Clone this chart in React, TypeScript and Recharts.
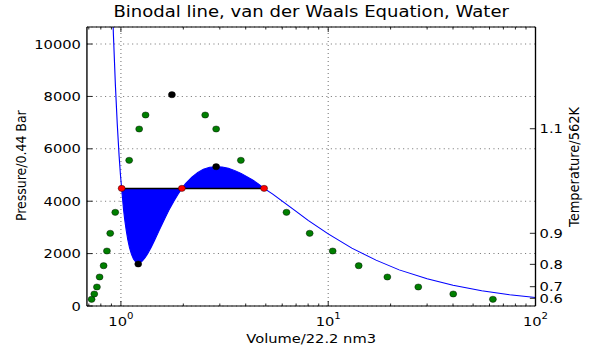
import {
  ComposedChart,
  Line,
  Area,
  Scatter,
  XAxis,
  YAxis,
  CartesianGrid,
  ReferenceLine,
} from 'recharts'

// van der Waals isotherm
const volume = [
  0.88, 0.9, 0.92, 0.94, 0.96, 0.98, 0.995, 1.008, 1.03, 1.045, 1.06, 1.08, 1.1, 1.125, 1.15, 1.18,
  1.21, 1.24, 1.27, 1.31, 1.35, 1.4, 1.45, 1.52, 1.6, 1.7, 1.8, 1.88, 1.968, 2.05, 2.2, 2.35, 2.5,
  2.68, 2.88, 3.08, 3.3, 3.55, 3.8, 4.05, 4.3, 4.6, 4.905, 5.4, 6, 7, 8, 10, 13, 17, 22, 30, 40,
  55, 75, 100,
]
const pressure = [
  15650, 12700, 10360, 8470, 6960, 5740, 5000, 4490, 3670, 3250, 2900, 2520, 2230, 1970, 1790,
  1680, 1640, 1660, 1720, 1850, 2010, 2240, 2490, 2840, 3210, 3640, 4000, 4250, 4490, 4670, 4920,
  5100, 5220, 5295, 5320, 5308, 5260, 5167, 5060, 4940, 4820, 4666, 4490, 4274, 4000, 3608, 3270,
  2750, 2210, 1750, 1380, 1040, 790, 580, 430, 324,
]

// Maxwell construction
const coexistPressure = 4490
const coexistVolume = [1.008, 1.968, 4.905]

// critical point, local max, local min
const extremaVolume = [1.762, 2.88, 1.212]
const extremaPressure = [8065, 5317, 1603]

// binodal points
const binodalPressure = [256, 458, 725, 1107, 1538, 2099, 2775, 3576, 5561, 6756, 7290]
const liquidVolume = [0.722, 0.744, 0.766, 0.789, 0.825, 0.856, 0.888, 0.939, 1.096, 1.225, 1.315]
const vaporVolume = [62.3, 40.1, 27.2, 19.29, 14.03, 10.51, 8.14, 6.29, 3.79, 2.88, 2.55]

const xTicks = [
  0.7, 0.8, 0.9, 1, 2, 3, 4, 5, 6, 7, 8, 9, 10, 20, 30, 40, 50, 60, 70, 80, 90, 100,
]
const yTicks = [0, 2000, 4000, 6000, 8000, 10000]
const tempTickPressure = [6767, 2775, 1590, 737, 294]
const tempTickLabels = ['1.1', '0.9', '0.8', '0.7', '0.6']

const X_MIN = 0.6856
const X_MAX = 100
const Y_MAX = 10650

const W = 527
const H = 351
const STRETCH = 595 / W
const FONT = '"DejaVu Sans", sans-serif'

const curveData = volume.map((x, i) => {
  const p = pressure[i]
  const inLoop = x >= coexistVolume[0] && x <= coexistVolume[2]
  return {
    x,
    p,
    band: inLoop ? [Math.min(p, coexistPressure), Math.max(p, coexistPressure)] : null,
  }
})
const tieLine = [
  { x: coexistVolume[0], p: coexistPressure },
  { x: coexistVolume[2], p: coexistPressure },
]
const redData = coexistVolume.map((x) => ({ x, p: coexistPressure }))
const blackData = extremaVolume.map((x, i) => ({ x, p: extremaPressure[i] }))
const liquidData = liquidVolume.map((x, i) => ({ x, p: binodalPressure[i] }))
const vaporData = vaporVolume.map((x, i) => ({ x, p: binodalPressure[i] }))

const isDecade = (v: number) => Math.abs(Math.log10(v) - Math.round(Math.log10(v))) < 1e-6

const bottomTick = (props: any) => {
  const { x, y, payload } = props
  const v = payload.value
  const major = isDecade(v)
  return (
    <g>
      <line x1={x} x2={x} y1={y} y2={y - (major ? 5 : 2.5)} stroke="#000" strokeWidth={0.8} />
      {major && (
        <text x={x} y={y + 20} textAnchor="middle" fontSize={13} fontFamily={FONT} fill="#000">
          10
          <tspan fontSize={9} dy={-7}>
            {Math.round(Math.log10(v))}
          </tspan>
        </text>
      )}
    </g>
  )
}

const topTick = (props: any) => {
  const { x, y, payload } = props
  const major = isDecade(payload.value)
  return <line x1={x} x2={x} y1={y} y2={y + (major ? 5 : 2.5)} stroke="#000" strokeWidth={0.8} />
}

const leftTick = (props: any) => {
  const { x, y, payload } = props
  return (
    <g>
      <line x1={x} x2={x + 5} y1={y} y2={y} stroke="#000" strokeWidth={0.8} />
      <text x={x - 5.3} y={y + 4.6} textAnchor="end" fontSize={13} fontFamily={FONT} fill="#000">
        {payload.value}
      </text>
    </g>
  )
}

const rightTick = (props: any) => {
  const { x, y, payload } = props
  const idx = tempTickPressure.indexOf(payload.value)
  return (
    <g>
      <line x1={x} x2={x - 5} y1={y} y2={y} stroke="#000" strokeWidth={0.8} />
      <text x={x + 3.6} y={y + 4.6} textAnchor="start" fontSize={13} fontFamily={FONT} fill="#000">
        {tempTickLabels[idx]}
      </text>
    </g>
  )
}

const dot = (props: any) => (
  <circle cx={props.cx} cy={props.cy} r={3.1} fill={props.fill} stroke="#000" strokeWidth={0.4} />
)

const axisLine = { stroke: '#000', strokeWidth: 1.2 }
const gridStroke = '#7f7f7f'
const gridDash = '1 3'

export default function App() {
  return (
    <div
      style={{
        position: 'absolute',
        left: 0,
        top: 0,
        width: W,
        height: H,
        transform: `scaleX(${STRETCH})`,
        transformOrigin: '0 0',
        background: '#fff',
      }}
    >
      <ComposedChart width={W} height={H} data={curveData} margin={{ top: 0, right: 0, bottom: 0, left: 0 }}>
        <CartesianGrid vertical={false} stroke={gridStroke} strokeDasharray={gridDash} />
        <XAxis
          dataKey="x"
          type="number"
          scale="log"
          domain={[X_MIN, X_MAX]}
          allowDataOverflow
          ticks={xTicks}
          interval={0}
          tickSize={0}
          tickMargin={0}
          tickLine={false}
          tick={bottomTick}
          height={45}
          axisLine={axisLine}
        />
        <XAxis
          xAxisId="top"
          orientation="top"
          dataKey="x"
          type="number"
          scale="log"
          domain={[X_MIN, X_MAX]}
          allowDataOverflow
          ticks={xTicks}
          interval={0}
          tickSize={0}
          tickMargin={0}
          tickLine={false}
          tick={topTick}
          height={27}
          axisLine={axisLine}
        />
        <YAxis
          type="number"
          domain={[0, Y_MAX]}
          allowDataOverflow
          ticks={yTicks}
          interval={0}
          tickSize={0}
          tickMargin={0}
          tickLine={false}
          tick={leftTick}
          width={77}
          axisLine={axisLine}
        />
        <YAxis
          yAxisId="right"
          orientation="right"
          type="number"
          domain={[0, Y_MAX]}
          allowDataOverflow
          ticks={tempTickPressure}
          interval={0}
          tickSize={0}
          tickMargin={0}
          tickLine={false}
          tick={rightTick}
          width={52.7}
          axisLine={axisLine}
        />
        <ReferenceLine x={1} stroke={gridStroke} strokeDasharray={gridDash} />
        <ReferenceLine x={10} stroke={gridStroke} strokeDasharray={gridDash} />
        <Area
          dataKey="band"
          type="linear"
          fill="#0000ff"
          fillOpacity={1}
          stroke="none"
          isAnimationActive={false}
        />
        <Line
          data={tieLine}
          dataKey="p"
          type="linear"
          stroke="#000"
          strokeWidth={1.5}
          dot={false}
          isAnimationActive={false}
        />
        <Line
          dataKey="p"
          type="linear"
          stroke="#0000ff"
          strokeWidth={1}
          dot={false}
          isAnimationActive={false}
        />
        <Scatter data={liquidData} dataKey="p" fill="#007f00" shape={dot} isAnimationActive={false} />
        <Scatter data={vaporData} dataKey="p" fill="#007f00" shape={dot} isAnimationActive={false} />
        <Scatter data={blackData} dataKey="p" fill="#000" shape={dot} isAnimationActive={false} />
        <Scatter data={redData} dataKey="p" fill="#ff0000" shape={dot} isAnimationActive={false} />
      </ComposedChart>
      <svg
        width={W}
        height={H}
        style={{ position: 'absolute', left: 0, top: 0, pointerEvents: 'none' }}
        fontFamily={FONT}
      >
        <text x={275.6} y={17.5} textAnchor="middle" fontSize={16} fill="#000">
          Binodal line, van der Waals Equation, Water
        </text>
        <text x={275.6} y={343.5} textAnchor="middle" fontSize={13} fill="#000">
          Volume/22.2 nm3
        </text>
        <text
          x={23}
          y={165.7}
          transform="rotate(-90 23 165.7)"
          textAnchor="middle"
          fontSize={12.5}
          fill="#000"
        >
          Pressure/0.44 Bar
        </text>
        <text
          x={512.4}
          y={167}
          transform="rotate(-90 512.4 167)"
          textAnchor="middle"
          fontSize={13}
          fill="#000"
        >
          Temperature/562K
        </text>
      </svg>
    </div>
  )
}
